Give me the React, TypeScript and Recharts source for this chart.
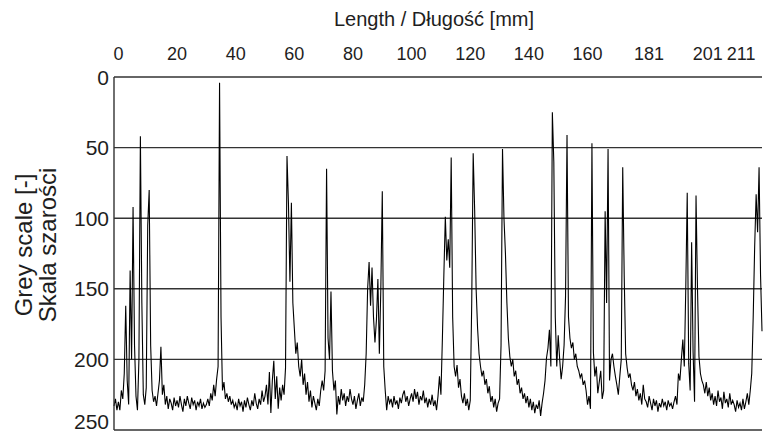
import React from "react";
import { CartesianGrid, Line, LineChart, XAxis, YAxis } from "recharts";

// sampling of the profile: one reading every 0.5 mm, starting at -1.5 mm
const START_MM = -1.5;
const STEP_MM = 0.5;

// grey level readings (0 = white, 250 = black)
const greyValues = [
  233, 228, 236,
  // 0 - 9.5 mm
  230, 236, 222, 228, 210, 162, 215, 232, 137, 200, 92, 190, 226, 236, 200, 42, 160, 225, 232, 220,
  // 10 - 19.5
  105, 80, 190, 222, 230, 226, 233, 224, 215, 191, 225, 218, 232, 226, 235, 228, 231, 236, 227, 233,
  // 20 - 29.5
  229, 234, 226, 232, 237, 228, 233, 226, 231, 235, 227, 232, 229, 236, 230, 233, 228, 235, 231, 234,
  // 30 - 39.5
  232, 228, 233, 224, 229, 218, 226, 214, 205, 4, 170, 222, 216, 228, 224, 230, 226, 232, 229, 234,
  // 40 - 49.5
  231, 236, 228, 233, 230, 237, 229, 234, 227, 232, 236, 229, 233, 224, 231, 235, 228, 232, 222, 230,
  // 50 - 59.5
  226, 218, 232, 209, 238, 215, 201, 228, 212, 235, 220, 229, 218, 225, 206, 56, 90, 145, 89, 160,
  // 60 - 69.5
  178, 196, 188, 205, 212, 200, 218, 210, 225, 216, 230, 222, 234, 226, 231, 236, 228, 233, 222, 215,
  // 70 - 79.5
  222, 208, 65, 185, 200, 152, 208, 222, 215, 239, 226, 232, 221, 229, 224, 233, 226, 230, 221, 228,
  // 80 - 89.5
  232, 226, 235, 229, 224, 233, 227, 230, 218, 196, 150, 131, 162, 135, 170, 188, 172, 143, 196, 150,
  // 90 - 99.5
  81, 205, 222, 236, 226, 231, 228, 234, 226, 232, 229, 235, 227, 231, 225, 222, 230, 226, 233, 228,
  // 100 - 109.5
  224, 230, 221, 228, 223, 232, 226, 229, 222, 231, 227, 234, 228, 232, 225, 233, 229, 236, 226, 212,
  // 110 - 119.5
  225, 185, 140, 99, 130, 115, 135, 57, 170, 205, 212, 204, 220, 214, 226, 231, 224, 233, 228, 236,
  // 120 - 129.5
  229, 160, 54, 94, 150, 178, 196, 205, 212, 208, 218, 214, 224, 219, 230, 226, 234, 228, 237, 231,
  // 130 - 139.5
  228, 190, 51, 100, 125, 160, 185, 198, 205, 200, 212, 208, 218, 214, 224, 220, 228, 224, 231, 226,
  // 140 - 149.5
  234, 228, 236, 230, 238, 232, 235, 229, 240, 231, 224, 215, 199, 192, 179, 205, 25, 60, 170, 205,
  // 150 - 159.5
  183, 200, 214, 205, 190, 155, 41, 170, 185, 192, 188, 200, 196, 205, 208, 213, 210, 218, 215, 222,
  // 160 - 169.5
  232, 226, 235, 47, 195, 212, 205, 224, 216, 208, 228, 222, 95, 160, 51, 215, 200, 196, 205, 212,
  // 170 - 179.5
  218, 225, 212, 200, 64, 140, 196, 206, 213, 210, 218, 222, 216, 226, 221, 229, 224, 232, 218, 228,
  // 180 - 189.5
  230, 234, 226, 231, 236, 228, 233, 229, 237, 231, 234, 228, 233, 230, 236, 229, 233, 231, 235, 230,
  // 190 - 199.5
  226, 232, 210, 215, 200, 186, 205, 150, 82, 203, 222, 117, 195, 230, 84, 150, 198, 210, 215, 218,
  // 200 - 209.5
  224, 216, 226, 220, 229, 224, 232, 226, 233, 222, 230, 227, 235, 223, 231, 228, 234, 224, 232, 229,
  // 210 - 219.5
  232, 237, 229, 234, 231, 236, 228, 235, 230, 224, 232, 222, 210, 170, 120, 83, 110, 64, 140, 180,
];

const lengthTicks = [0, 20, 40, 60, 80, 100, 120, 140, 160, 181, 201, 211];
const greyTicks = [0, 50, 100, 150, 200, 250];

const data = greyValues.map((grey, i) => ({ mm: START_MM + i * STEP_MM, grey }));

const FONT = "'Liberation Sans', Arial, Helvetica, sans-serif";
const INK = "#1e1e1e";

// "201" and "211" sit close together, give the last one a little room
const TopTick = (props: any) => (
  <text
    x={props.x}
    y={60}
    dx={props.payload.value === 211 ? 4 : 0}
    textAnchor="middle"
    fontSize={18}
    fontFamily={FONT}
    fill={INK}
  >
    {props.payload.value}
  </text>
);

// the last label sits on the bottom edge, keep it inside the picture
const LeftTick = (props: any) => (
  <text
    x={109}
    y={Math.min(props.y, 421)}
    dy="0.36em"
    textAnchor="end"
    fontSize={21}
    fontFamily={FONT}
    fill={INK}
  >
    {props.payload.value}
  </text>
);

export default function App() {
  return (
    <div style={{ position: "fixed", left: 0, top: 0, width: 766, height: 436, background: "#fff" }}>
      <LineChart width={766} height={436} data={data} margin={{ top: 47, right: 4, bottom: 6, left: 0 }}>
        <CartesianGrid vertical={false} stroke="#333" strokeWidth={1.4} />
        <XAxis
          dataKey="mm"
          type="number"
          orientation="top"
          domain={[-1.5, 219.5]}
          ticks={lengthTicks}
          interval={0}
          height={30}
          axisLine={false}
          tickLine={false}
          tick={<TopTick />}
        />
        <YAxis
          type="number"
          reversed
          domain={[0, 250]}
          ticks={greyTicks}
          interval={0}
          width={114}
          axisLine={{ stroke: "#333", strokeWidth: 1.4 }}
          tickLine={false}
          tick={<LeftTick />}
        />
        <Line
          dataKey="grey"
          type="linear"
          stroke="#000"
          strokeWidth={1.1}
          dot={false}
          isAnimationActive={false}
        />
      </LineChart>
      <svg width={766} height={436} style={{ position: "absolute", left: 0, top: 0, pointerEvents: "none" }}>
        <text x={434} y={26} textAnchor="middle" fontSize={20} fontFamily={FONT} fill={INK}>
          Length / Długość [mm]
        </text>
        <g fontSize={24} fontFamily={FONT} fill={INK} textAnchor="middle">
          <text x={24} y={245} dy="0.35em" transform="rotate(-90 24 245)">
            Grey scale [-]
          </text>
          <text x={48} y={245} dy="0.35em" transform="rotate(-90 48 245)">
            Skala szarości
          </text>
        </g>
      </svg>
    </div>
  );
}
